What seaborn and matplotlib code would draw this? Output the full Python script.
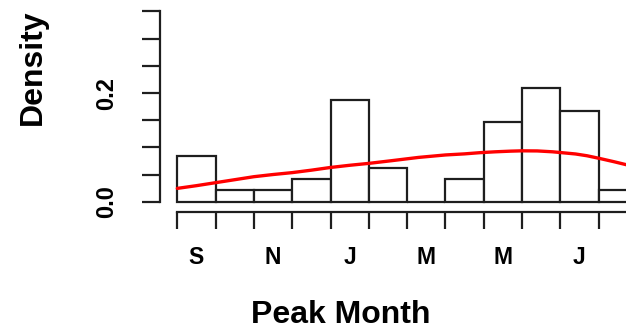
import numpy as np
import pandas as pd
import matplotlib
matplotlib.use("Agg")
import matplotlib.pyplot as plt
import seaborn as sns

# Months ordered from September; one bin per month
month_index = [0.5, 1.5, 2.5, 3.5, 4.5, 5.5, 6.5, 7.5, 8.5, 9.5, 10.5, 11.5]
peak_counts = [4, 1, 1, 2, 9, 3, 0, 2, 7, 10, 8, 1]
month_labels = ["S", "N", "J", "M", "M", "J"]
label_positions = [0.5, 2.5, 4.5, 6.5, 8.5, 10.5]

# Smoothed density curve
curve_x = [0.0, 0.5, 1.0, 1.5, 2.0, 2.5, 3.0, 3.5, 4.0, 4.5, 5.0, 5.6, 6.3, 7.0,
           7.5, 7.9, 8.3, 8.7, 9.0, 9.4, 9.8, 10.1, 10.4, 10.7, 11.0, 11.4, 11.75, 12.0]
curve_y = [0.0245, 0.0295, 0.035, 0.0405, 0.046, 0.050, 0.0535, 0.058, 0.063, 0.067,
           0.0705, 0.0755, 0.0815, 0.086, 0.088, 0.0902, 0.0918, 0.0930, 0.0936, 0.0934,
           0.0918, 0.0898, 0.0878, 0.0845, 0.080, 0.0736, 0.0676, 0.062]

y_ticks = [0.0, 0.05, 0.10, 0.15, 0.20, 0.25, 0.30, 0.35]
y_tick_labels = ["0.0", "", "", "", "0.2", "", "", ""]

sns.set_style("white")
plt.rcParams["font.family"] = ["Liberation Sans", "DejaVu Sans"]
plt.rcParams["text.color"] = "black"
plt.rcParams["xtick.color"] = "black"
plt.rcParams["ytick.color"] = "black"

W, H = 626, 332
fig = plt.figure(figsize=(W / 100, H / 100), dpi=100)

# axes box in pixels
x0_px, x_unit = 177.3, 38.3
y0_px, y_unit = 201.7, 543.5
left_px, right_px = 160.0, 645.0
bottom_px, top_px = 211.7, 6.0
ax = fig.add_axes([left_px / W, 1 - bottom_px / H,
                   (right_px - left_px) / W, (bottom_px - top_px) / H])

df = pd.DataFrame({"month": month_index, "count": peak_counts})
sns.histplot(data=df, x="month", weights="count", bins=12, binrange=(0, 12),
             stat="density", ax=ax, color="white", alpha=1.0,
             edgecolor="#1e1e1e", linewidth=1.6)

sns.lineplot(x=curve_x, y=curve_y, ax=ax, color="#ff0000", linewidth=2.4)

ax.set_xlim((left_px - x0_px) / x_unit, (right_px - x0_px) / x_unit)
ax.set_ylim(-(bottom_px - y0_px) / y_unit, (y0_px - top_px) / y_unit)

for s in ["top", "right"]:
    ax.spines[s].set_visible(False)
ax.spines["left"].set_bounds(0, 0.35)
ax.spines["bottom"].set_bounds(0, 12)
for s in ["left", "bottom"]:
    ax.spines[s].set_color("#1e1e1e")
    ax.spines[s].set_linewidth(1.6)

ax.set_yticks(y_ticks)
ax.set_yticklabels(y_tick_labels, rotation=90, va="center",
                   fontsize=17, fontweight="bold", color="black")
ax.tick_params(axis="y", direction="out", length=13, width=1.6,
               color="#1e1e1e", pad=17, left=True)

ax.set_xticks(range(0, 13))
ax.set_xticklabels([""] * 13)
ax.set_xticks(label_positions, minor=True)
ax.set_xticklabels(month_labels, minor=True, fontsize=16.5, fontweight="bold",
                   color="black")
ax.tick_params(axis="x", which="major", direction="out", length=12, width=1.6,
               color="#1e1e1e", bottom=True)
ax.tick_params(axis="x", which="minor", length=0, pad=25, bottom=True)

ax.set_xlabel("")
ax.set_ylabel("")
fig.text(341 / W, 1 - 315 / H, "Peak Month", ha="center", va="center",
         fontsize=23, fontweight="bold", color="black")
fig.text(33 / W, 1 - 67 / H, "Density", ha="center", va="center",
         rotation=90, fontsize=23, fontweight="bold", color="black")

fig.savefig("out.png", dpi=100)
